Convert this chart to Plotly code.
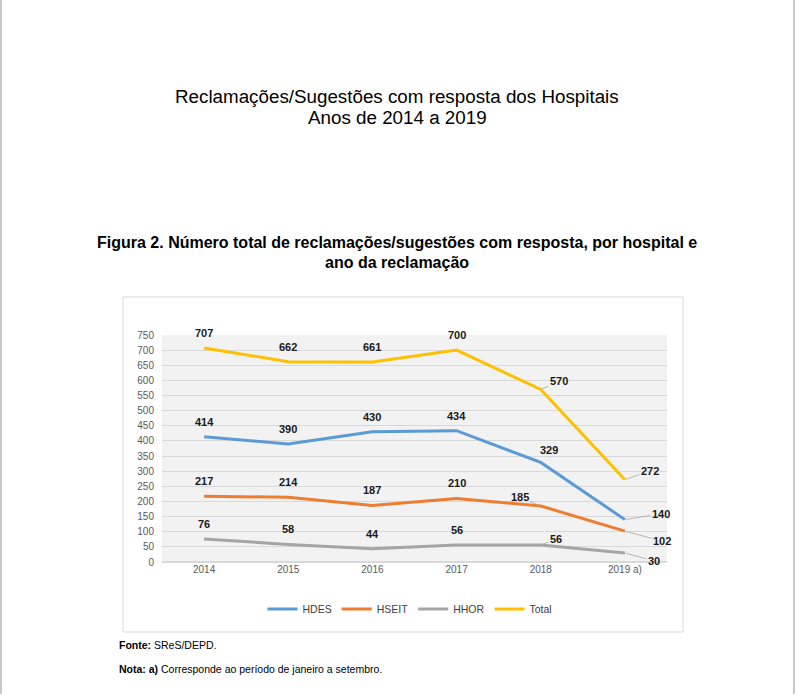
import plotly.graph_objects as go

# ---------------- data ----------------
years = ["2014", "2015", "2016", "2017", "2018", "2019 a)"]
hdes = [414, 390, 430, 434, 329, 140]
hseit = [217, 214, 187, 210, 185, 102]
hhor = [76, 58, 44, 56, 56, 30]
total = [707, 662, 661, 700, 570, 272]
y_ticks = list(range(0, 751, 50))

series_names = ["HDES", "HSEIT", "HHOR", "Total"]
series_values = [hdes, hseit, hhor, total]
series_colors = ["#5B9BD5", "#ED7D31", "#A5A5A5", "#FFC000"]

# label placement (pixel offsets dx, dy(up)); leader = draw a thin connector
DEFAULT_DY = 15
special_labels = {
    ("Total", 4): (18, 8, True),
    ("Total", 5): (25, 9, True),
    ("HDES", 4): (8, 12, False),
    ("HDES", 5): (36, 6, True),
    ("HSEIT", 4): (-21, 9, True),
    ("HSEIT", 5): (37, -10, True),
    ("HHOR", 4): (15, 6, True),
    ("HHOR", 5): (29, -8, True),
}

# ---------------- layout geometry ----------------
W, H = 795, 697
PL, PR, PT, PB = 162, 667, 335, 562  # plot area in pixels


def px_x(px):
    return (px - PL) / (PR - PL)


def px_y(py):
    return (PB - py) / (PB - PT)


fig = go.Figure()

for name, vals, col in zip(series_names, series_values, series_colors):
    fig.add_trace(go.Scatter(
        x=years, y=vals, name=name, mode="lines",
        line=dict(color=col, width=3),
        hoverinfo="x+y+name",
    ))

annotations = []
label_font = dict(family="Liberation Sans, Arial, sans-serif", size=11, color="#1a1a1a")
for name, vals in zip(series_names, series_values):
    for i, v in enumerate(vals):
        key = (name, i)
        if key in special_labels:
            dx, dy, leader = special_labels[key]
        else:
            dx, dy, leader = 0, DEFAULT_DY, False
        # category axis: position by category index
        if leader:
            annotations.append(dict(
                x=i, y=v, xref="x", yref="y",
                text=f"<b>{v}</b>", font=label_font,
                showarrow=True, arrowhead=0, arrowwidth=0.8,
                arrowcolor="#A6A6A6", ax=dx, ay=-dy, standoff=1,
            ))
        else:
            annotations.append(dict(
                x=i, y=v, xref="x", yref="y",
                text=f"<b>{v}</b>", font=label_font,
                showarrow=False, xshift=dx, yshift=dy,
                xanchor="center", yanchor="middle",
            ))

page_font = "Liberation Sans, Arial, sans-serif"


def page_text(text, px, py, size, anchor="center"):
    return dict(text=text, x=px_x(px), y=px_y(py), xref="paper", yref="paper",
                xanchor=anchor, yanchor="middle", showarrow=False,
                font=dict(family=page_font, size=size, color="#000"))


annotations += [
    page_text("Reclamações/Sugestões com resposta dos Hospitais", 397, 97, 18.8),
    page_text("Anos de 2014 a 2019", 397, 118, 18.8),
    page_text("<b>Figura 2. Número total de reclamações/sugestões com resposta, por hospital e</b>", 397, 242, 16),
    page_text("<b>ano da reclamação</b>", 397, 262, 16),
    page_text("<b>Fonte:</b> SReS/DEPD.", 117, 645, 10.5, "left"),
    page_text("<b>Nota: a)</b> Corresponde ao período de janeiro a setembro.", 117, 669, 10.5, "left"),
]

shapes = [
    # chart frame
    dict(type="rect", xref="paper", yref="paper", x0=px_x(123), x1=px_x(683), y0=px_y(297), y1=px_y(632),
         line=dict(color="#D9D9D9", width=1), fillcolor="rgba(0,0,0,0)", layer="below"),
    # page edges
    dict(type="line", xref="paper", yref="paper", x0=px_x(1), x1=px_x(1), y0=px_y(0), y1=px_y(694),
         line=dict(color="#C8C8C8", width=2)),
    dict(type="line", xref="paper", yref="paper", x0=px_x(794), x1=px_x(794), y0=px_y(0), y1=px_y(694),
         line=dict(color="#C8C8C8", width=2)),
]

fig.update_layout(
    width=W, height=H,
    margin=dict(l=PL, r=W - PR, t=PT, b=H - PB, autoexpand=False),
    paper_bgcolor="white", plot_bgcolor="#F2F2F2",
    font=dict(family=page_font, color="#595959"),
    showlegend=True,
    legend=dict(orientation="h", x=px_x(410), y=px_y(609), xanchor="center", yanchor="middle",
                font=dict(size=10.5, color="#404040"), bgcolor="rgba(0,0,0,0)",
                itemwidth=30, tracegroupgap=0),
    xaxis=dict(type="category", range=[-0.5, 5.5], showgrid=False, zeroline=False, showline=False,
               ticks="", tickfont=dict(size=10, color="#595959"), fixedrange=True),
    yaxis=dict(range=[0, 750], tickvals=y_ticks, showgrid=True, gridcolor="#D9D9D9", gridwidth=1,
               zeroline=True, zerolinecolor="#D9D9D9", showline=False, ticks="",
               ticklabelstandoff=7,
               tickfont=dict(size=10, color="#595959"), fixedrange=True),
    annotations=annotations, shapes=shapes,
)

fig.write_html("out.html", config={"displayModeBar": False},
               post_script="document.body.style.margin='0';document.body.style.overflow='hidden';")
